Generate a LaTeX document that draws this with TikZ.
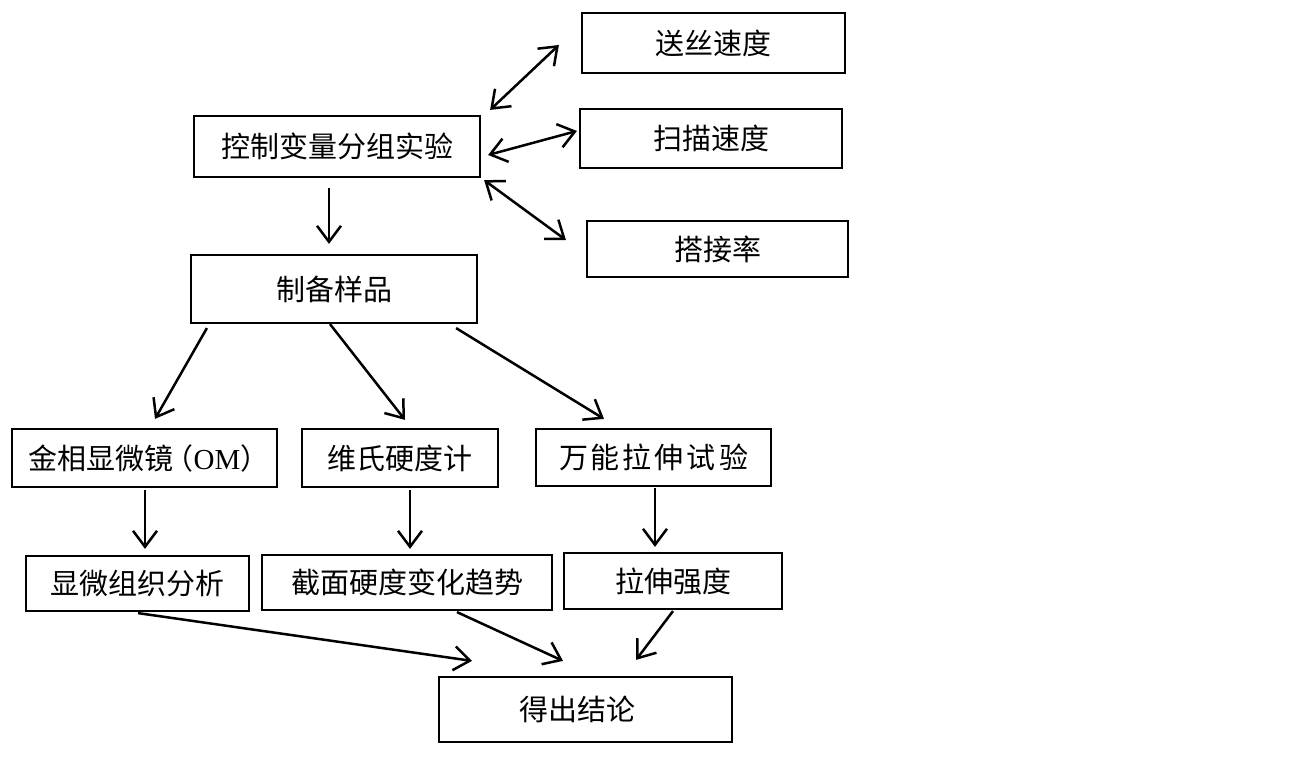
\documentclass[tikz,border=0pt]{standalone}
\usepackage{fontspec}
\newfontfamily\cjk{Noto Sans CJK SC}
\newfontfamily\lat{Liberation Serif}
\usetikzlibrary{arrows.meta}
\newcommand{\gapsp}{\hspace{3pt}}
\tikzset{
  box/.style={draw=black, line width=2.2pt, inner sep=0pt, font=\cjk\fontsize{29pt}{32pt}\selectfont, text=black},
  arr/.style={line width=2.5pt, -{Straight Barb[length=16pt,width=24pt]}},
  darr/.style={line width=2.5pt, {Straight Barb[length=16pt,width=24pt]}-{Straight Barb[length=16pt,width=24pt]}}
}
\begin{document}
\begin{tikzpicture}[x=1pt,y=-1pt]
\useasboundingbox[fill=white] (0,0) rectangle (1301,781);
% boxes
\node[box, minimum width=263pt, minimum height=60pt] (feed) at (713.5,43) {送丝速度};
\node[box, minimum width=286pt, minimum height=61pt] (ctrl) at (337,146.5) {控制变量分组实验};
\node[box, minimum width=262pt, minimum height=59pt] (scan) at (711,138.5) {扫描速度};
\node[box, minimum width=261pt, minimum height=56pt] (over) at (717.5,249) {搭接率};
\node[box, minimum width=286pt, minimum height=68pt] (prep) at (334,289) {制备样品};
\node[box, minimum width=265pt, minimum height=58pt] (om) at (144.5,458) {金相显微镜\kern-9pt（{\lat OM}）\kern-9pt\relax};
\node[box, minimum width=196pt, minimum height=58pt] (hv) at (400,458) {维氏硬度计};
\node[box, minimum width=235pt, minimum height=57pt] (ut) at (653.5,457.5) {万\gapsp 能\gapsp 拉\gapsp 伸\gapsp 试\gapsp 验};
\node[box, minimum width=223pt, minimum height=55pt] (micro) at (137.5,583.5) {显微组织分析};
\node[box, minimum width=290pt, minimum height=55pt] (sect) at (407,582.5) {截面硬度变化趋势};
\node[box, minimum width=218pt, minimum height=56pt] (ts) at (673,581) {拉伸强度};
\node[box, minimum width=293pt, minimum height=65pt] (concl) at (585.5,709.5) {得出结论\kern16pt\relax};
% arrows
\draw[arr] ([xshift=-8pt,yshift=-10pt]ctrl.south) -- ([xshift=-5pt,yshift=10pt]prep.north);
\draw[darr] ([xshift=9pt,yshift=5pt]ctrl.north east) -- ([xshift=-22pt,yshift=-2pt]feed.west);
\draw[darr] ([xshift=7pt,yshift=-8.5pt]ctrl.east) -- ([xshift=-2pt,yshift=7.5pt]scan.west);
\draw[darr] ([xshift=3pt,yshift=-2pt]ctrl.south east) -- ([xshift=-20pt,yshift=9pt]over.west);
\draw[arr] ([xshift=17pt,yshift=-4pt]prep.south west) -- ([xshift=10.5pt,yshift=9pt]om.north);
\draw[arr] ([xshift=-4pt]prep.south) -- ([xshift=5pt,yshift=8pt]hv.north);
\draw[arr] ([xshift=-22pt,yshift=-4pt]prep.south east) -- ([xshift=-49.5pt,yshift=9pt]ut.north);
\draw[arr] ([xshift=0.5pt,yshift=-2pt]om.south) -- ([xshift=7.5pt,yshift=6pt]micro.north);
\draw[arr] ([xshift=10pt,yshift=-2pt]hv.south) -- ([xshift=3pt,yshift=5pt]sect.north);
\draw[arr] ([xshift=1.5pt,yshift=-1pt]ut.south) -- ([xshift=-18pt,yshift=5pt]ts.north);
\draw[arr] ([xshift=0.5pt,yshift=-1pt]micro.south) -- ([xshift=-113.5pt,yshift=15pt]concl.north);
\draw[arr] ([xshift=50pt,yshift=-1pt]sect.south) -- ([xshift=-22.5pt,yshift=15pt]concl.north);
\draw[arr] ([yshift=-1pt]ts.south) -- ([xshift=50.5pt,yshift=16pt]concl.north);
\end{tikzpicture}
\end{document}
